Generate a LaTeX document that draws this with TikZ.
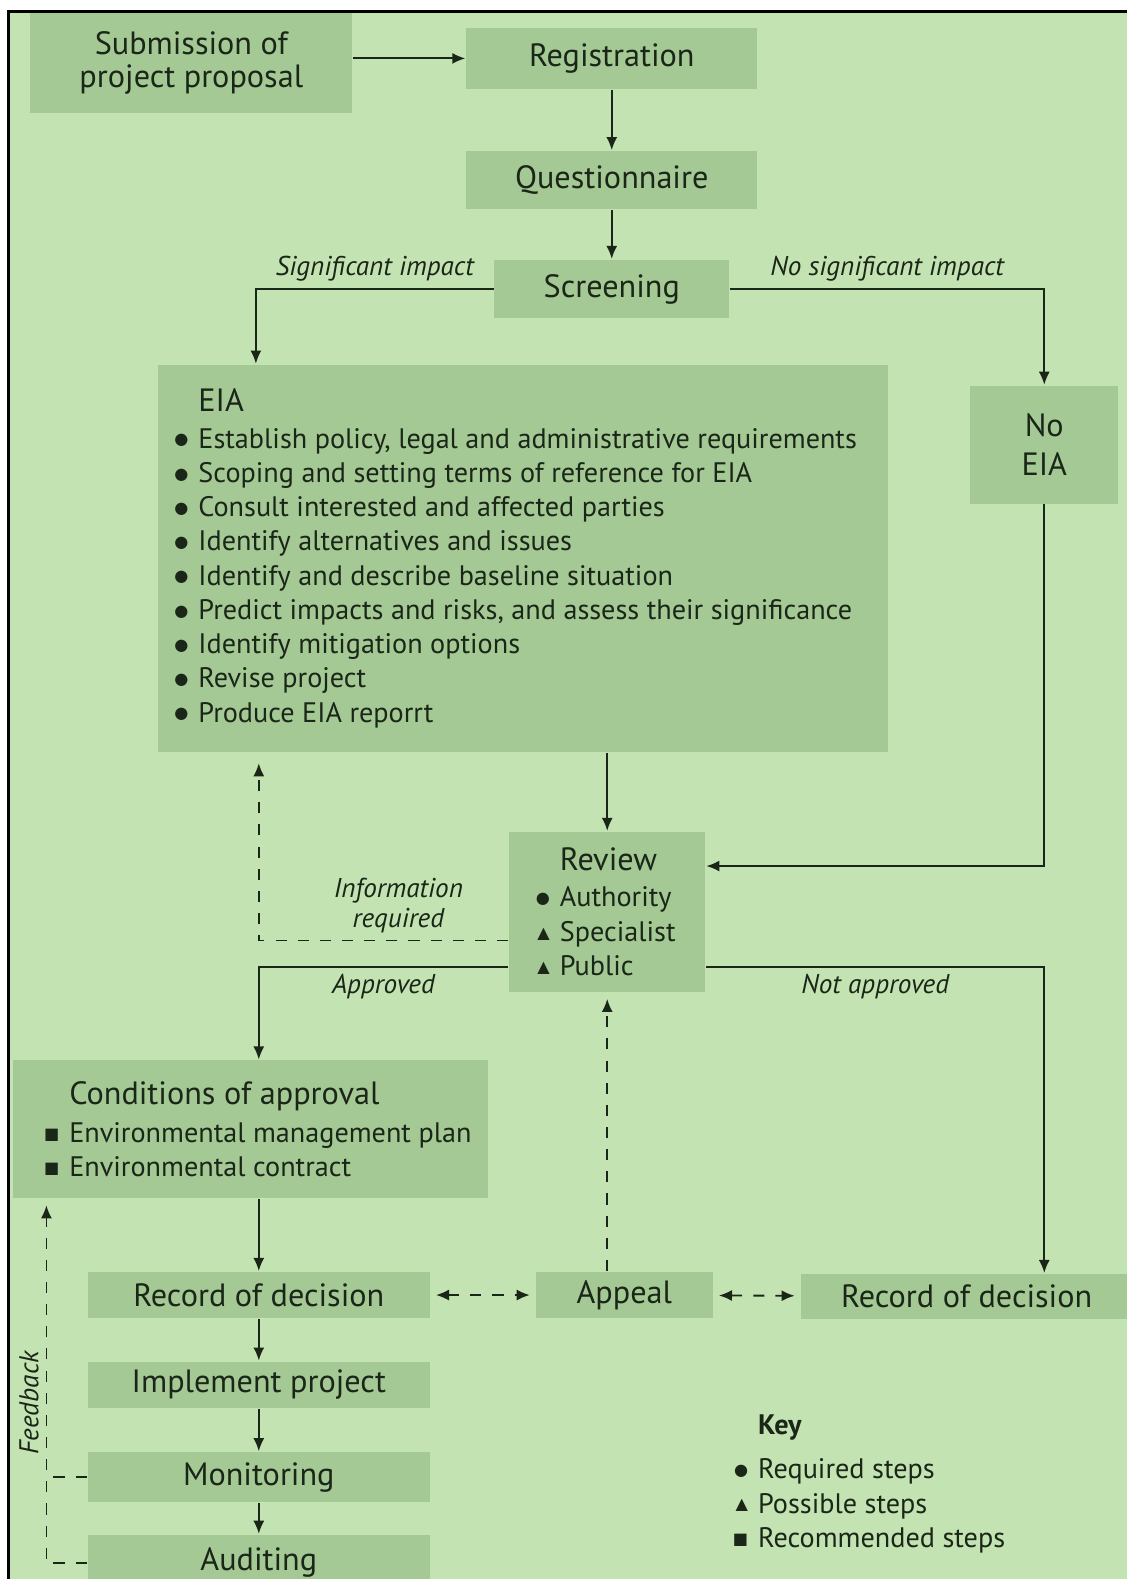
\documentclass[tikz,border=0pt]{standalone}
\usepackage{fontspec}
\setmainfont{PT Sans}
\newfontfamily\symf{DejaVu Sans}
\usetikzlibrary{arrows.meta}
\definecolor{bgc}{RGB}{196,227,178}
\definecolor{boxc}{RGB}{165,201,149}
\definecolor{ink}{RGB}{26,38,24}
\newlength\itmind
\newcommand\ttlfont{\fontsize{16}{19}\selectfont}
\newcommand\itmfont{\fontsize{14}{17}\selectfont}
\newcommand\labfont{\fontsize{13.5}{15}\selectfont\itshape}
\newcommand\mkreq{\raisebox{1.6pt}{\symf\fontsize{8}{8}\selectfont ●}}
\newcommand\mkpos{\raisebox{1.6pt}{\symf\fontsize{8}{8}\selectfont ▲}}
\newcommand\mkrec{\raisebox{1.6pt}{\symf\fontsize{8}{8}\selectfont ■}}
\newcommand\itm[1]{\hspace*{\itmind}\llap{#1\hspace{5pt}}}

\begin{document}
\begin{tikzpicture}[x=0.5pt, y=-0.5pt, color=ink, line width=0.9pt, >={Latex[length=6.5pt,width=5.5pt]},
	main/.style = {fill=boxc, inner sep=0pt, font=\ttlfont},
	list/.style = {main, align=left, font=\itmfont},
	lab/.style = {font=\labfont, align=center},
	dsh/.style = {dash pattern=on 5.5pt off 5.5pt},
	itmind/.code = {\setlength{\itmind}{#1}}]
	\useasboundingbox (0,0) rectangle (1119,1568);
	\fill[bgc] (8.5,11.5) rectangle (1119,1568);
	\draw[black, line width=1.7pt] (8.5,1568) -- (8.5,11.5) -- (1119,11.5);

	\node[main, align=center, minimum width=160pt, minimum height=49.5pt] (1) at (190,62.5) {Submission of\\[-3pt]project proposal};
	\node[main, minimum width=144.5pt, minimum height=30pt] (2) at (607.5,58) {Registration};
	\node[main, minimum width=144.5pt, minimum height=29pt] (3) at (607.5,179) {Questionnaire};
	\node[main, minimum width=116.5pt, minimum height=29pt] (4) at (607.5,287) {Screening};
	\node[list, itmind=4.5pt, minimum width=362.5pt, minimum height=192.5pt] (5) at (519.5,554.5) {{\ttlfont\hspace*{\itmind}EIA}\\[1pt]
		\itm{\mkreq}Establish policy, legal and administrative requirements\\
		\itm{\mkreq}Scoping and setting terms of reference for EIA\\
		\itm{\mkreq}Consult interested and affected parties\\
		\itm{\mkreq}Identify alternatives and issues\\
		\itm{\mkreq}Identify and describe baseline situation\\
		\itm{\mkreq}Predict impacts and risks, and assess their significance\\
		\itm{\mkreq}Identify mitigation options\\
		\itm{\mkreq}Revise project\\
		\itm{\mkreq}Produce EIA reporrt};
	\node[main, align=center, minimum width=73.5pt, minimum height=58.5pt] (6) at (1037,441.5) {No\\EIA};
	\node[list, itmind=10.5pt, minimum width=97.5pt, minimum height=79.5pt] (7) at (603,905.5) {{\ttlfont\hspace*{\itmind}Review}\\[1pt]
		\itm{\mkreq}Authority\\
		\itm{\mkpos}Specialist\\
		\itm{\mkpos}Public};
	\node[list, itmind=19.5pt, minimum width=236pt, minimum height=68.5pt] (8) at (249,1121.5) {{\ttlfont\hspace*{\itmind}Conditions of approval}\\[2pt]
		\itm{\mkrec}Environmental management plan\\
		\itm{\mkrec}Environmental contract};
	\node[main, minimum width=170pt, minimum height=23pt] (9) at (257,1286) {Record of decision};
	\node[main, minimum width=88pt, minimum height=23pt] (10) at (620,1286) {Appeal};
	\node[main, minimum width=170pt, minimum height=23pt] (11) at (257,1375) {Implement project};
	\node[main, minimum width=170pt, minimum height=25pt] (12) at (257,1467) {Monitoring};
	\node[main, minimum width=170pt, minimum height=28pt] (13) at (257,1552) {Auditing};
	\node[main, minimum width=165pt, minimum height=22.5pt] (14) at (960,1287.5) {Record of decision};
	\node[align=left, font=\itmfont, itmind=0pt, inner sep=0pt, anchor=north west] (15) at (752,1404) {\textbf{Key}\\[5pt]
		\itm{\mkreq}Required steps\\
		\itm{\mkpos}Possible steps\\
		\itm{\mkrec}Recommended steps};
	\coordinate (fb) at ([xshift=17pt]8.south west);

	\draw[->] (1.east |- 2.west) -- (2.west);
	\draw[->] (2) -- (3);
	\draw[->] (3) -- (4);
	\draw[->] (4.west) -| node[lab, above, pos=0.25] (17) {Significant impact} ([xshift=49pt]5.north west);
	\draw[->] (4.east) -| node[lab, above, pos=0.25] (18) {No significant impact} (6.north);
	\draw[->] (7.north |- 5.south) -- (7.north);
	\draw[->] (6.south) |- ([yshift=22.75pt]7.east);
	\draw[dsh, ->, shorten >=5pt] ([yshift=-14.25pt]7.west) -| node[lab, above, pos=0.22] (19) {Information\\required} (9.north |- 5.south);
	\draw[->] ([yshift=-27.25pt]7.west) -| node[lab, below, pos=0.25] (20) {Approved} (9.north |- 8.north);
	\draw[->] ([yshift=-27.25pt]7.east) -| node[lab, below, pos=0.25] (21) {Not approved} (6.south |- 14.north);
	\draw[->] (9.north |- 8.south) -- (9.north);
	\draw[dsh, <->, shorten <=2.5pt, shorten >=2.5pt] (9) -- (10);
	\draw[dsh, <->, shorten <=2.5pt, shorten >=2.5pt] (10) -- (14);
	\draw[dsh, ->, shorten >=3pt] (7.south |- 10.north) -- (7.south);
	\draw[->] (9) -- (11);
	\draw[->] (11) -- (12);
	\draw[->] (12) -- (13);
	\draw[dsh, ->, shorten >=3pt] (13.west) -| node[lab, above, rotate=90, pos=0.72] (16) {Feedback} (fb);
	\draw[dsh] (12.west) -- (12.west -| fb);
\end{tikzpicture}
\end{document}
